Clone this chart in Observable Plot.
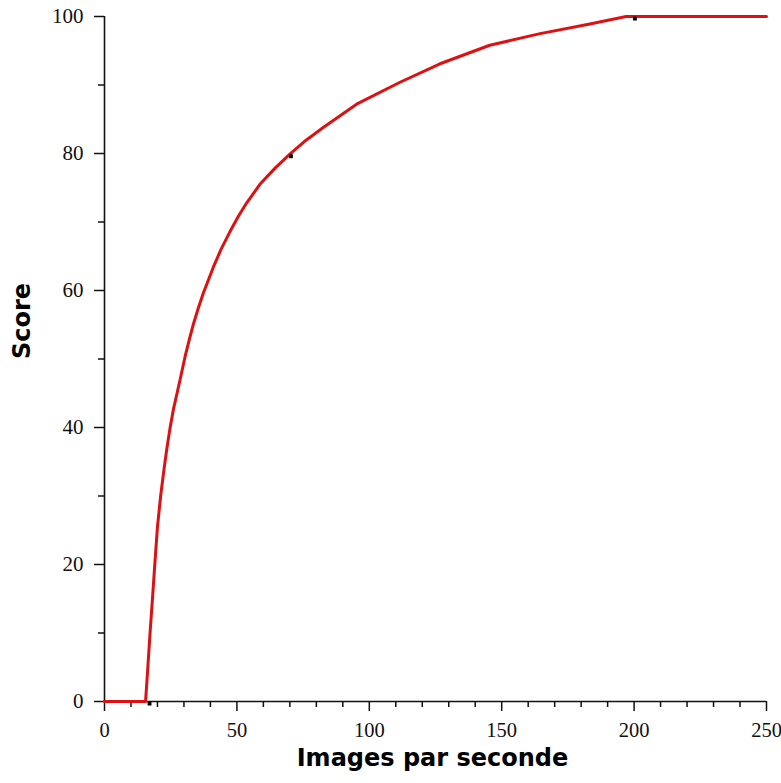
<!DOCTYPE html>
<html>
<head>
<meta charset="utf-8">
<script src="https://cdn.jsdelivr.net/npm/d3@7"></script>
<script src="https://cdn.jsdelivr.net/npm/@observablehq/plot@0.6"></script>
<style>
  html, body { margin: 0; padding: 0; background: #fff; }
</style>
</head>
<body>
<div id="chart"></div>
<script>
// Fitted curve
const curveX = [0, 15.5, 16.2, 17.2, 18.2, 19.1, 20, 21.2, 22.5, 23.5, 24.7, 26, 28.5, 30.4, 32, 33.5, 35.4, 37.3, 41.1, 44, 47.4, 50.5, 53.7, 58.7, 64.5, 70, 76, 82.6, 95.2, 111.6, 126.7, 145.5, 164.5, 183.3, 197, 250];
const curveY = [0, 0, 4, 10, 15.5, 20.6, 25.5, 30, 34, 36.8, 39.8, 42.6, 46.9, 50.3, 52.8, 55, 57.4, 59.6, 63.4, 66, 68.6, 70.8, 72.8, 75.5, 77.9, 79.9, 81.9, 83.8, 87.2, 90.4, 93.1, 95.8, 97.5, 98.9, 100, 100];

// Measured points
const pointX = [17, 70.4, 200.3];
const pointY = [-0.3, 79.6, 99.7];

// Ticks
const xMajorTicks = [0, 50, 100, 150, 200, 250];
const xMinorTicks = [10, 20, 30, 40, 60, 70, 80, 90, 110, 120, 130, 140, 160, 170, 180, 190, 210, 220, 230, 240];
const yMajorTicks = [0, 20, 40, 60, 80, 100];
const yMinorTicks = [10, 30, 50, 70, 90];

const xTitle = "Images par seconde";
const yTitle = "Score";

const curve = curveX.map((x, i) => ({x, y: curveY[i]}));
const points = pointX.map((x, i) => ({x, y: pointY[i]}));

const axisColor = "#111";
const tickFont = "Liberation Serif, Times New Roman, serif";
const titleFont = "DejaVu Sans, Verdana, sans-serif";

const chart = Plot.plot({
  width: 781,
  height: 783,
  marginLeft: 104,
  marginRight: 15,
  marginTop: 16,
  marginBottom: 82,
  style: {background: "#fff", fontFamily: tickFont, color: axisColor},
  x: {domain: [0, 250], label: null},
  y: {domain: [0, 100], label: null},
  marks: [
    Plot.axisX({ticks: xMinorTicks, tickSize: 6, tickFormat: () => "", strokeWidth: 1.5, label: null}),
    Plot.axisX({ticks: xMajorTicks, tickSize: 10, tickPadding: 11, fontSize: 20.5, strokeWidth: 1.5, label: null, fontFamily: tickFont}),
    Plot.axisY({ticks: yMinorTicks, tickSize: 6, tickFormat: () => "", strokeWidth: 1.5, label: null}),
    Plot.axisY({ticks: yMajorTicks, tickSize: 10, tickPadding: 11, fontSize: 21, strokeWidth: 1.5, label: null, fontFamily: tickFont}),
    Plot.ruleY([0], {stroke: axisColor, strokeWidth: 1.6}),
    Plot.ruleX([0], {stroke: axisColor, strokeWidth: 1.6}),
    Plot.line(curve, {x: "x", y: "y", stroke: "#dd1111", strokeWidth: 3}),
    Plot.dot(points, {x: "x", y: "y", symbol: "square", r: 2.2, fill: "#000", stroke: "none"}),
    Plot.text([xTitle], {text: d => d, frameAnchor: "bottom", dy: 64, dx: -3, fontSize: 24, fontWeight: "bold", fontFamily: titleFont, fill: "#000"}),
    Plot.text([yTitle], {text: d => d, frameAnchor: "left", dx: -82, rotate: -90, fontSize: 24, fontWeight: "bold", fontFamily: titleFont, fill: "#000"})
  ]
});
document.getElementById("chart").appendChild(chart);
</script>
</body>
</html>
